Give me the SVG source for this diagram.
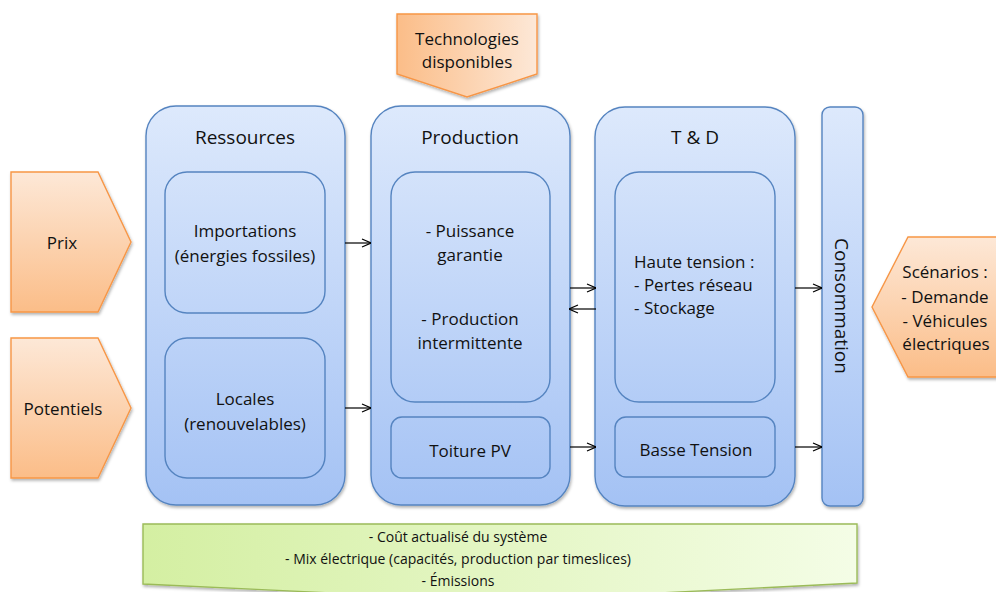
<svg xmlns="http://www.w3.org/2000/svg" width="996" height="592" viewBox="0 0 996 592">
<defs>
<linearGradient id="gBlue" gradientUnits="userSpaceOnUse" x1="0" y1="106" x2="0" y2="506">
<stop offset="0" stop-color="#dde9fc"/><stop offset="1" stop-color="#a4c2f4"/>
</linearGradient>
<linearGradient id="gOrV" x1="0" y1="0" x2="0" y2="1">
<stop offset="0" stop-color="#fde8d7"/><stop offset="1" stop-color="#fbbd88"/>
</linearGradient>
<linearGradient id="gOrH" x1="0" y1="0" x2="1" y2="0">
<stop offset="0" stop-color="#fbbd88"/><stop offset="1" stop-color="#fde8d7"/>
</linearGradient>
<linearGradient id="gGreen" x1="0" y1="0" x2="1" y2="0">
<stop offset="0" stop-color="#d4efa2"/><stop offset="1" stop-color="#f4fde6"/>
</linearGradient>
<filter id="sh" x="-10%" y="-10%" width="120%" height="120%">
<feDropShadow dx="1" dy="2" stdDeviation="1.8" flood-color="#000" flood-opacity="0.3"/>
</filter>
<marker id="ah" viewBox="0 0 10 10" refX="10" refY="5" markerWidth="10" markerHeight="10" markerUnits="userSpaceOnUse" orient="auto">
<path d="M1,1 L10,5 L1,9" fill="none" stroke="#000" stroke-width="1.2"/>
</marker>
<style>
.blue{fill:url(#gBlue);stroke:#5584c0;stroke-width:1.4}
.orV{fill:url(#gOrV);stroke:#f79646;stroke-width:1.4}
.orH{fill:url(#gOrH);stroke:#f79646;stroke-width:1.4}
.green{fill:url(#gGreen);stroke:#9bbb59;stroke-width:1.4}
text{font-family:"Open Sans","Liberation Sans",sans-serif;fill:#111;text-anchor:middle}
.h{font-size:19px}
.b{font-size:17px}
.s{font-size:14px}
.l{text-anchor:start}
.con{stroke:#000;stroke-width:1.2;fill:none;marker-end:url(#ah)}
</style>
</defs>
<rect width="996" height="592" fill="#fff"/>

<g id="prix">
<polygon class="orV" filter="url(#sh)" points="11,172 98,172 131,242 98,312 11,312"/>
<text class="b" x="62" y="249">Prix</text>
</g>
<g id="potentiels">
<polygon class="orV" filter="url(#sh)" points="11,338 98,338 131,408 98,478 11,478"/>
<text class="b" x="63" y="415">Potentiels</text>
</g>
<g id="technologies">
<polygon class="orH" filter="url(#sh)" points="397,14 537,14 537,74 467,97 397,74"/>
<text class="b" x="467" y="45">Technologies</text>
<text class="b" x="467" y="68">disponibles</text>
</g>
<g id="scenarios">
<polygon class="orV" filter="url(#sh)" points="1002,237 908,237 872,307 908,377 1002,377"/>
<text class="b" x="945" y="278">Scénarios :</text>
<text class="b" x="945" y="303">- Demande</text>
<text class="b" x="945" y="327">- Véhicules</text>
<text class="b" x="946" y="350">électriques</text>
</g>

<g id="ressources">
<rect class="blue" filter="url(#sh)" x="146" y="106" width="199" height="399" rx="30"/>
<text class="h" x="245" y="144">Ressources</text>
<g id="importations">
<rect class="blue" x="165" y="172" width="160" height="141" rx="22"/>
<text class="b" x="245" y="237">Importations</text>
<text class="b" x="245" y="262">(énergies fossiles)</text>
</g>
<g id="locales">
<rect class="blue" x="165" y="338" width="160" height="140" rx="22"/>
<text class="b" x="245" y="405">Locales</text>
<text class="b" x="245" y="430">(renouvelables)</text>
</g>
</g>

<g id="production">
<rect class="blue" filter="url(#sh)" x="371" y="106" width="199" height="399" rx="30"/>
<text class="h" x="470" y="144">Production</text>
<g id="production-types">
<rect class="blue" x="391" y="172" width="159" height="230" rx="24"/>
<text class="b" x="470" y="237">- Puissance</text>
<text class="b" x="470" y="261">garantie</text>
<text class="b" x="470" y="325">- Production</text>
<text class="b" x="470" y="349">intermittente</text>
</g>
<g id="toiture">
<rect class="blue" x="391" y="417" width="159" height="61" rx="11"/>
<text class="b" x="470" y="457">Toiture PV</text>
</g>
</g>

<g id="td">
<rect class="blue" filter="url(#sh)" x="595" y="107" width="200" height="399" rx="30"/>
<text class="h" x="695" y="144">T &amp; D</text>
<g id="haute">
<rect class="blue" x="615" y="172" width="160" height="230" rx="24"/>
<text class="b l" x="634" y="268">Haute tension :</text>
<text class="b l" x="634" y="291">- Pertes réseau</text>
<text class="b l" x="634" y="314">- Stockage</text>
</g>
<g id="basse">
<rect class="blue" x="615" y="417" width="160" height="60" rx="11"/>
<text class="b" x="696" y="456">Basse Tension</text>
</g>
</g>

<g id="consommation">
<rect class="blue" filter="url(#sh)" x="822" y="107" width="41" height="399" rx="8"/>
<text class="h" transform="translate(835,306) rotate(90)" x="0" y="0">Consommation</text>
</g>

<g id="resultats">
<polygon class="green" filter="url(#sh)" points="143,524 857,524 857,583 500,601 143,584"/>
<text class="s" x="458" y="542">- Coût actualisé du système</text>
<text class="s" x="458" y="564">- Mix électrique (capacités, production par timeslices)</text>
<text class="s" x="458" y="586">- Émissions</text>
</g>

<g id="connectors">
<line class="con" x1="345" y1="243" x2="371" y2="243"/>
<line class="con" x1="345" y1="408" x2="371" y2="408"/>
<line class="con" x1="570" y1="288" x2="596" y2="288"/>
<line class="con" x1="596" y1="309" x2="569" y2="309"/>
<line class="con" x1="570" y1="447" x2="596" y2="447"/>
<line class="con" x1="795" y1="288" x2="822" y2="288"/>
<line class="con" x1="795" y1="447" x2="822" y2="447"/>
</g>
</svg>
